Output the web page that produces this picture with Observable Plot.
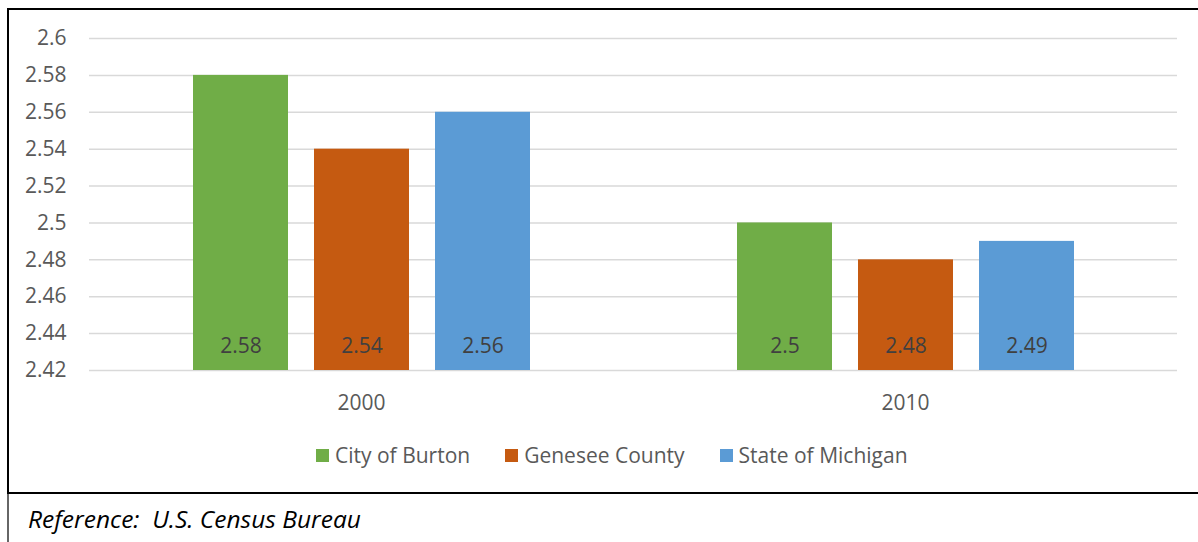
<!DOCTYPE html>
<html><head><meta charset="utf-8">
<script src="https://cdn.jsdelivr.net/npm/d3@7"></script>
<script src="https://cdn.jsdelivr.net/npm/@observablehq/plot@0.6"></script>
<style>
body{margin:0;background:#fff;font-family:"Open Sans",sans-serif;width:1198px;height:542px;overflow:hidden;position:relative;}
#frame{position:absolute;left:7px;top:8px;width:1191px;height:482px;border-left:2px solid #000;border-top:2px solid #000;border-bottom:2px solid #000;}
#chart{position:absolute;left:0;top:0;}
#legend{position:absolute;left:307px;top:431px;display:flex;align-items:center;font-size:21px;line-height:28px;color:#595959;white-space:nowrap;}
#legend .item{display:flex;align-items:center;margin-right:35px;}
#legend .sw{width:13px;height:13px;margin-right:6px;}
#caption{position:absolute;left:7px;top:494px;width:1191px;height:48px;border-left:2px solid #666;}
#caption span{position:absolute;left:19px;top:9px;font-size:24.5px;line-height:32px;font-style:italic;color:#000;}
#chart svg g[aria-label="y-axis tick label"], #chart svg g[aria-label="fx-axis tick label"]{font-size:21px;}
</style></head>
<body>
<div id="frame"><div id="chart"></div><div id="legend"></div></div>
<div id="caption"><span>Reference:&nbsp; U.S. Census Bureau</span></div>
<script>
const years = ["2000", "2010"];
const series = ["City of Burton", "Genesee County", "State of Michigan"];
const burton = [2.58, 2.50];
const genesee = [2.54, 2.48];
const michigan = [2.56, 2.49];
const yTicks = [2.42, 2.44, 2.46, 2.48, 2.50, 2.52, 2.54, 2.56, 2.58, 2.60];
const colors = ["#70AD47", "#C55A11", "#5B9BD5"];

const values = [burton, genesee, michigan];
const data = [];
years.forEach((yr, i) => series.forEach((s, j) => data.push({year: yr, series: s, value: values[j][i]})));
const yMin = yTicks[0], yMax = yTicks[yTicks.length - 1];
const fmt = d => String(+d.toFixed(2));

const chart = Plot.plot({
  width: 1189,
  height: 410,
  marginLeft: 80,
  marginRight: 21,
  marginTop: 28,
  marginBottom: 50,
  style: {fontFamily: "Open Sans", fontSize: "21px", color: "#595959", background: "transparent"},
  fx: {domain: years, padding: 0, label: null},
  x: {domain: series, paddingInner: 0.215, paddingOuter: 0.855, axis: null},
  y: {domain: [yMin, yMax], ticks: yTicks, label: null},
  color: {domain: series, range: colors},
  marks: [
    Plot.ruleY(yTicks, {stroke: "#d9d9d9", strokeWidth: 1.5}),
    Plot.barY(data, {fx: "year", x: "series", y1: () => yMin, y2: "value", fill: "series"}),
    Plot.text(data, {fx: "year", x: "series", y: () => yMin, text: d => fmt(d.value), dy: -24, fill: "#404040", fontSize: 21, lineAnchor: "middle"}),
    Plot.axisY({ticks: yTicks, tickFormat: fmt, tickSize: 0, tickPadding: 23, fontSize: 21, fill: "#595959", label: null}),
    Plot.axisFx({anchor: "bottom", tickSize: 0, tickPadding: 25, fontSize: 21, fill: "#595959", label: null})
  ]
});
chart.querySelectorAll('g[aria-label$="tick label"]').forEach(g => g.setAttribute("font-size", "21"));
document.getElementById("chart").appendChild(chart);

const legend = document.getElementById("legend");
series.forEach((s, i) => {
  const it = document.createElement("div");
  it.className = "item";
  const sw = document.createElement("div");
  sw.className = "sw";
  sw.style.background = colors[i];
  const t = document.createElement("span");
  t.textContent = s;
  it.appendChild(sw); it.appendChild(t);
  legend.appendChild(it);
});
</script>
</body></html>
